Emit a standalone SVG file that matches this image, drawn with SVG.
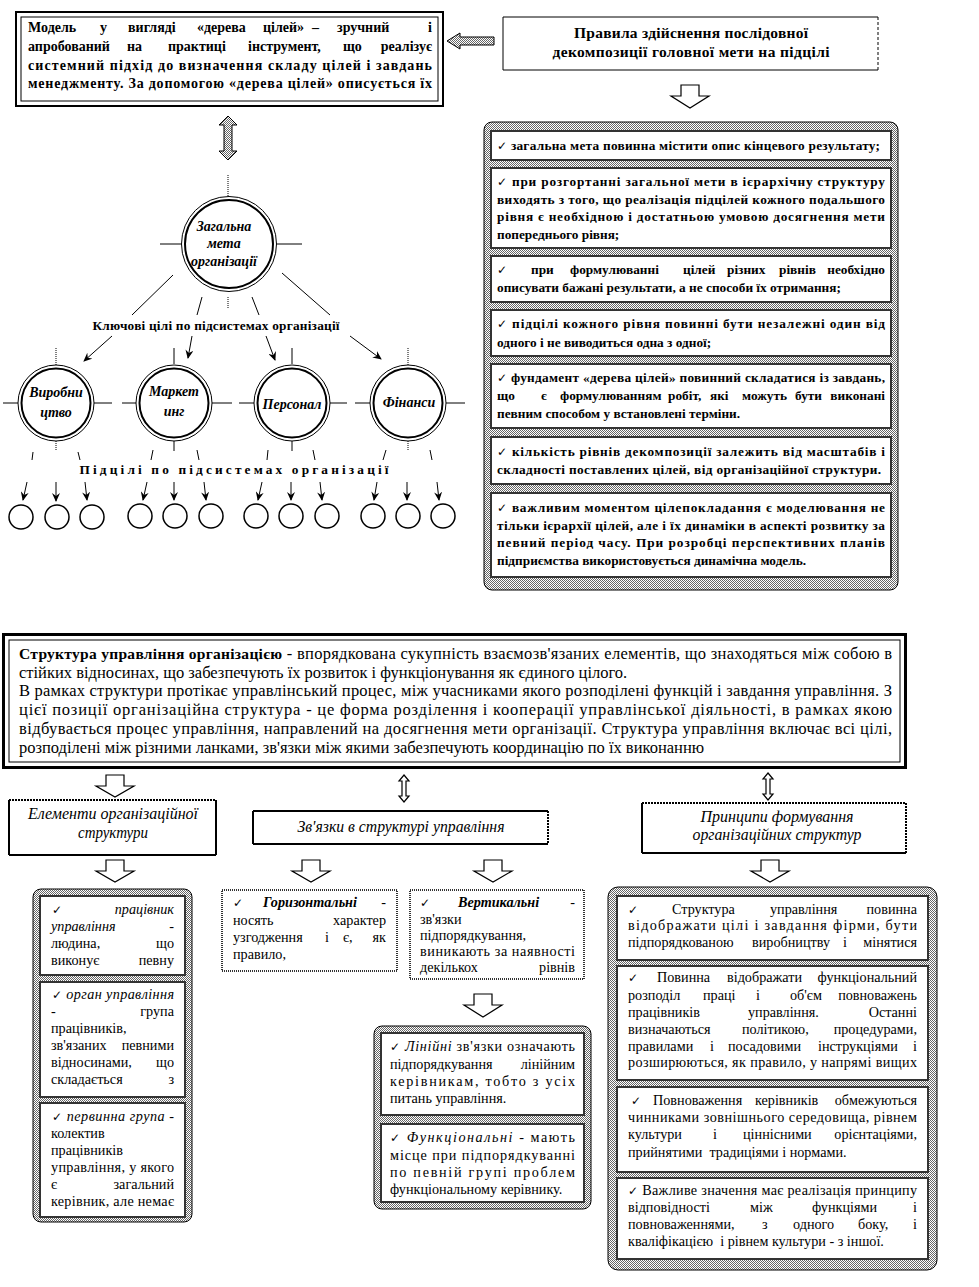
<svg xmlns="http://www.w3.org/2000/svg" width="979" height="1287" viewBox="0 0 979 1287">
<defs>
<pattern id="dots" width="2" height="2" patternUnits="userSpaceOnUse"><rect width="2" height="2" fill="#fff"/><rect width="1" height="1" fill="#666"/><rect x="1" y="1" width="1" height="1" fill="#666"/></pattern>
<marker id="ah" markerWidth="9" markerHeight="8" refX="8" refY="4" orient="auto" markerUnits="userSpaceOnUse"><path d="M0,0 L9,4 L0,8 L3,4 Z" fill="#000"/></marker>
</defs>
<style>
text{font-family:"Liberation Serif","DejaVu Serif",serif;fill:#000}
.b{font-weight:bold;font-size:13.3px}
.bt{font-weight:bold;font-size:14px}
.bh{font-weight:bold;font-size:15.5px}
.bi{font-weight:bold;font-style:italic;font-size:14px}
.n15{font-size:16.5px}
.t{font-size:14.2px}
.hd{font-style:italic;font-size:16px}
.ck{font-family:"DejaVu Sans",sans-serif;font-size:12px;font-weight:normal;font-style:normal}
.i{font-style:italic}
.ln{stroke:#000;stroke-width:1;fill:none}
.dl{stroke:#000;stroke-width:1;fill:none;stroke-dasharray:1 1}
.ar{stroke:#000;stroke-width:1;fill:none;marker-end:url(#ah)}
.blk{fill:#fff;stroke:#000;stroke-width:1.2}
.sblk{fill:url(#dots);stroke:#000;stroke-width:1}
.stip{fill:url(#dots);stroke:#000;stroke-width:1}
.inb{fill:#fff;stroke:#333;stroke-width:2}
.e2{stroke:#000;stroke-width:2;fill:none}
.d2{stroke:#000;stroke-width:2;fill:none;stroke-dasharray:2 1}
.c{text-anchor:middle}
.e{text-anchor:end}
.ring1{fill:#fff;stroke:#000;stroke-width:1}
.ring2{fill:none;stroke:#000;stroke-width:2}
.sm{fill:#fff;stroke:#000;stroke-width:1.5}
</style>
<rect width="979" height="1287" fill="#fff"/>

<!-- ===== Connectors ===== -->
<g id="connectors">
  <path class="sblk" d="M447,41 L460,33 V37 H494 V45 H460 V49 Z"/>
  <path class="blk" d="M681,85 H699 V96 H709 L690,108 L671,96 H681 Z"/>
  <path class="sblk" d="M228,116 L237,125 H232 V151 H237 L228,160 L219,151 H224 V125 H219 Z"/>
  <line class="dl" x1="228" y1="175" x2="228" y2="196"/>
  <line class="ln" x1="160" y1="244" x2="181" y2="244"/>
  <line class="ln" x1="277" y1="244" x2="302" y2="244"/>
  <line class="ln" x1="173" y1="275" x2="132" y2="315"/>
  <line class="ln" x1="202" y1="297" x2="197" y2="315"/>
  <line class="dl" x1="228" y1="297" x2="228" y2="308"/>
  <line class="ln" x1="252" y1="297" x2="259" y2="315"/>
  <line class="ln" x1="282" y1="273" x2="330" y2="315"/>
  <line class="ar" x1="112" y1="336" x2="84" y2="361"/>
  <line class="ar" x1="192" y1="336" x2="188" y2="358"/>
  <line class="ar" x1="266" y1="336" x2="275" y2="360"/>
  <line class="ar" x1="350" y1="336" x2="381" y2="359"/>
  <line class="dl" x1="56" y1="348" x2="56" y2="365"/>
  <line class="ln" x1="174" y1="348" x2="174" y2="364"/>
  <line class="ln" x1="292" y1="348" x2="292" y2="364"/>
  <line class="dl" x1="408" y1="348" x2="408" y2="365"/>
  <line class="ln" x1="3" y1="403" x2="18" y2="403"/>
  <line class="ln" x1="94" y1="403" x2="112" y2="403"/>
  <line class="ln" x1="122" y1="403" x2="136" y2="403"/>
  <line class="ln" x1="212" y1="403" x2="232" y2="403"/>
  <line class="ln" x1="239" y1="403" x2="254" y2="403"/>
  <line class="ln" x1="330" y1="403" x2="347" y2="403"/>
  <line class="ln" x1="355" y1="403" x2="370" y2="403"/>
  <line class="ln" x1="446" y1="403" x2="465" y2="403"/>
  <line class="dl" x1="56" y1="441" x2="56" y2="450"/>
  <line class="ln" x1="174" y1="441" x2="174" y2="451"/>
  <line class="ln" x1="292" y1="441" x2="292" y2="451"/>
  <line class="dl" x1="408" y1="441" x2="408" y2="450"/>
  <line class="ln" x1="33" y1="452" x2="32" y2="460"/>
  <line class="ln" x1="78" y1="452" x2="80" y2="460"/>
  <line class="ln" x1="153" y1="450" x2="151" y2="460"/>
  <line class="ln" x1="197" y1="450" x2="199" y2="460"/>
  <line class="ln" x1="268" y1="450" x2="267" y2="460"/>
  <line class="ln" x1="313" y1="450" x2="315" y2="460"/>
  <line class="ln" x1="386" y1="450" x2="383" y2="460"/>
  <line class="ln" x1="430" y1="450" x2="432" y2="460"/>
  <line class="ar" x1="27" y1="482" x2="23" y2="500"/>
  <line class="ar" x1="56" y1="482" x2="56" y2="501"/>
  <line class="ar" x1="85" y1="482" x2="87" y2="500"/>
  <line class="ar" x1="147" y1="482" x2="143" y2="500"/>
  <line class="ar" x1="174" y1="482" x2="174" y2="500"/>
  <line class="ar" x1="204" y1="482" x2="206" y2="500"/>
  <line class="ar" x1="262" y1="482" x2="258" y2="500"/>
  <line class="ar" x1="291" y1="482" x2="291" y2="500"/>
  <line class="ar" x1="320" y1="482" x2="322" y2="500"/>
  <line class="ar" x1="377" y1="482" x2="374" y2="500"/>
  <line class="ar" x1="407" y1="482" x2="407" y2="500"/>
  <line class="ar" x1="437" y1="482" x2="439" y2="500"/>
  <!-- lower arrows -->
  <path class="blk" d="M106,775 H124 V786 H134 L115,797 L96,786 H106 Z"/>
  <path class="blk" d="M404,775 L409,781 H406 V796 H409 L404,802 L399,796 H402 V781 H399 Z"/>
  <path class="blk" d="M768,773 L773,779 H770 V794 H773 L768,800 L763,794 H766 V779 H763 Z"/>
  <path class="blk" d="M106,860 H124 V871 H134 L115,882 L96,871 H106 Z"/>
  <path class="blk" d="M302,860 H320 V871 H330 L311,882 L292,871 H302 Z"/>
  <path class="blk" d="M484,860 H502 V871 H512 L493,882 L474,871 H484 Z"/>
  <path class="blk" d="M761,860 H779 V871 H789 L770,882 L751,871 H761 Z"/>
  <path class="blk" d="M474,994 H492 V1005 H502 L483,1017 L464,1005 H474 Z"/>
</g>

<!-- ===== Top-left: tree model text ===== -->
<g id="tree-model-note">
  <rect x="16" y="12" width="427" height="94" fill="#fff" stroke="#000" stroke-width="2"/>
  <rect x="21" y="17" width="417" height="84" fill="none" stroke="#000" stroke-width="1"/>
  <text class="bt" y="32"><tspan x="28">Модель</tspan><tspan x="100">у</tspan><tspan x="128">вигляді</tspan><tspan x="197">«дерева</tspan><tspan x="263">цілей»</tspan><tspan x="312">–</tspan><tspan x="337">зручний</tspan></text>
  <text class="bt e" x="432" y="32">і</text>
  <text class="bt" y="51"><tspan x="28">апробований</tspan><tspan x="127">на</tspan><tspan x="168">практиці</tspan><tspan x="248">інструмент,</tspan><tspan x="343">що</tspan></text>
  <text class="bt e" x="432" y="51">реалізує</text>
  <text class="bt" x="28" y="70" textLength="404" lengthAdjust="spacing">системний підхід до визначення складу цілей і завдань</text>
  <text class="bt" x="28" y="88" textLength="404" lengthAdjust="spacing">менеджменту. За допомогою «дерева цілей» описується їх</text>
</g>

<!-- ===== Top-right: rules title ===== -->
<g id="rules-title">
  <rect x="503" y="17" width="375" height="53" fill="#fff"/>
  <line class="ln" x1="503" y1="17" x2="878" y2="17" stroke-width="1.5"/>
  <line class="ln" x1="503" y1="17" x2="503" y2="70" stroke-width="1.5"/>
  <line class="ln" x1="503" y1="70" x2="878" y2="70" stroke-width="1.5"/>
  <line class="ln" x1="878" y1="17" x2="878" y2="70" stroke-dasharray="3 2"/>
  <text class="bh c" x="691" y="38" textLength="234" lengthAdjust="spacing">Правила здійснення послідовної</text>
  <text class="bh c" x="691" y="57" textLength="277" lengthAdjust="spacing">декомпозиції головної мети на підцілі</text>
</g>

<!-- ===== Tree nodes ===== -->
<g id="goal-main">
  <circle class="ring1" cx="229" cy="244" r="47.5"/>
  <circle class="ring2" cx="229" cy="244" r="44"/>
  <text class="bi c" x="224" y="231">Загальна</text>
  <text class="bi c" x="224" y="248">мета</text>
  <text class="bi c" x="224" y="266">організації</text>
</g>
<g id="label-key">
  <text class="b c" x="216" y="330" textLength="247" lengthAdjust="spacing">Ключові цілі  по підсистемах організації</text>
</g>
<g id="sub-production">
  <circle class="ring1" cx="56" cy="403" r="38"/>
  <circle class="ring2" cx="56" cy="403" r="34.5"/>
  <text class="bi c" x="56" y="397">Виробни</text>
  <text class="bi c" x="56" y="417">цтво</text>
</g>
<g id="sub-marketing">
  <circle class="ring1" cx="174" cy="403" r="38"/>
  <circle class="ring2" cx="174" cy="403" r="34.5"/>
  <text class="bi c" x="174" y="396">Маркет</text>
  <text class="bi c" x="174" y="416">инг</text>
</g>
<g id="sub-personnel">
  <circle class="ring1" cx="292" cy="403" r="38"/>
  <circle class="ring2" cx="292" cy="403" r="34.5"/>
  <text class="bi c" x="292" y="409">Персонал</text>
</g>
<g id="sub-finance">
  <circle class="ring1" cx="408" cy="403" r="38"/>
  <circle class="ring2" cx="408" cy="403" r="34.5"/>
  <text class="bi c" x="409" y="407">Фінанси</text>
</g>
<g id="label-sub">
  <text class="b c" x="234" y="474" textLength="309" lengthAdjust="spacing">Підцілі по підсистемах організації</text>
</g>
<g id="subgoals">
  <circle class="sm" cx="21" cy="517" r="12"/>
  <circle class="sm" cx="57" cy="517" r="12"/>
  <circle class="sm" cx="92" cy="517" r="12"/>
  <circle class="sm" cx="140" cy="516" r="12"/>
  <circle class="sm" cx="175" cy="516" r="12"/>
  <circle class="sm" cx="211" cy="516" r="12"/>
  <circle class="sm" cx="256" cy="516" r="12"/>
  <circle class="sm" cx="291" cy="516" r="12"/>
  <circle class="sm" cx="327" cy="516" r="12"/>
  <circle class="sm" cx="373" cy="516" r="12"/>
  <circle class="sm" cx="408" cy="516" r="12"/>
  <circle class="sm" cx="443" cy="516" r="12"/>
</g>

<!-- ===== Right rules list ===== -->
<g id="rules-list">
  <rect class="stip" x="484" y="122" width="414" height="468" rx="8"/>
  <rect class="inb" x="491" y="131" width="400" height="29"/>
  <text class="b" x="497" y="150" textLength="383" lengthAdjust="spacing"><tspan class="ck">✓</tspan> загальна мета повинна містити опис кінцевого результату;</text>

  <rect class="inb" x="491" y="168" width="400" height="80"/>
  <text class="b" x="497" y="186" textLength="388" lengthAdjust="spacing"><tspan class="ck">✓</tspan>  при розгортанні загальної мети в ієрархічну структуру</text>
  <text class="b" x="497" y="204" textLength="388" lengthAdjust="spacing">виходять з того, що реалізація підцілей кожного подальшого</text>
  <text class="b" x="497" y="221" textLength="388" lengthAdjust="spacing">рівня є необхідною і достатньою умовою досягнення мети</text>
  <text class="b" x="497" y="239">попереднього рівня;</text>

  <rect class="inb" x="491" y="256" width="400" height="46"/>
  <text class="b" y="274"><tspan x="497" class="ck">✓</tspan><tspan x="531">при</tspan><tspan x="570">формулюванні</tspan><tspan x="683">цілей</tspan><tspan x="727">різних</tspan><tspan x="779">рівнів</tspan></text>
  <text class="b e" x="885" y="274">необхідно</text>
  <text class="b" x="497" y="292">описувати бажані результати, а не способи їх отримання;</text>

  <rect class="inb" x="491" y="310" width="400" height="46"/>
  <text class="b" x="497" y="328" textLength="388" lengthAdjust="spacing"><tspan class="ck">✓</tspan> підцілі кожного рівня повинні бути незалежні один від</text>
  <text class="b" x="497" y="347">одного і не виводиться одна з одної;</text>

  <rect class="inb" x="491" y="364" width="400" height="64"/>
  <text class="b" x="497" y="382" textLength="388" lengthAdjust="spacing"><tspan class="ck">✓</tspan> фундамент «дерева цілей» повинний складатися із завдань,</text>
  <text class="b" y="400"><tspan x="497">що</tspan><tspan x="541">є</tspan><tspan x="560">формулюванням</tspan><tspan x="668">робіт,</tspan><tspan x="710">які</tspan><tspan x="742">можуть</tspan><tspan x="795">бути</tspan></text>
  <text class="b e" x="885" y="400">виконані</text>
  <text class="b" x="497" y="418">певним способом у встановлені терміни.</text>

  <rect class="inb" x="491" y="437" width="400" height="47"/>
  <text class="b" x="497" y="456" textLength="388" lengthAdjust="spacing"><tspan class="ck">✓</tspan> кількість рівнів декомпозиції залежить від масштабів і</text>
  <text class="b" x="497" y="474" textLength="384" lengthAdjust="spacing">складності поставлених цілей, від організаційної  структури.</text>

  <rect class="inb" x="491" y="493" width="400" height="84"/>
  <text class="b" x="497" y="512" textLength="388" lengthAdjust="spacing"><tspan class="ck">✓</tspan> важливим моментом цілепокладання є моделювання не</text>
  <text class="b" x="497" y="530" textLength="388" lengthAdjust="spacing">тільки ієрархії цілей, але і їх динаміки в аспекті розвитку за</text>
  <text class="b" x="497" y="547" textLength="388" lengthAdjust="spacing">певний період часу. При розробці перспективних планів</text>
  <text class="b" x="497" y="565">підприємства використовується динамічна модель.</text>
</g>

<!-- ===== Structure definition ===== -->
<g id="structure-def">
  <rect x="3.5" y="634.5" width="902" height="133" fill="#fff" stroke="#000" stroke-width="3"/>
  <rect x="9" y="640" width="891" height="122" fill="none" stroke="#000" stroke-width="1"/>
  <text class="n15" x="19" y="659" textLength="873" lengthAdjust="spacing"><tspan font-weight="bold" font-size="15.5px">Структура управління організацією</tspan> - впорядкована сукупність  взаємозв'язаних елементів, що знаходяться між собою в</text>
  <text class="n15" x="19" y="678">стійких відносинах, що забезпечують їх розвиток і функціонування  як єдиного цілого.</text>
  <text class="n15" x="19" y="696" textLength="873" lengthAdjust="spacing">В рамках структури протікає управлінський процес, між учасниками якого розподілені функцій і завдання управління. З</text>
  <text class="n15" x="19" y="715" textLength="873" lengthAdjust="spacing">цієї позиції організаційна структура - це форма розділення і кооперації управлінської діяльності, в рамках якою</text>
  <text class="n15" x="19" y="734" textLength="873" lengthAdjust="spacing">відбувається процес управління, направлений на досягнення мети організації. Структура управління включає всі цілі,</text>
  <text class="n15" x="19" y="753">розподілені між різними ланками,  зв'язки між якими забезпечують координацію по їх виконанню</text>
</g>

<!-- ===== Headers ===== -->
<g id="hdr-elements">
  <rect x="9" y="800" width="207" height="55" fill="#fff"/>
  <line class="d2" x1="9" y1="800" x2="216" y2="800"/>
  <line class="e2" x1="9" y1="800" x2="9" y2="855"/>
  <line class="e2" x1="216" y1="800" x2="216" y2="855"/>
  <line class="e2" x1="9" y1="855" x2="216" y2="855"/>
  <text class="hd c" x="113" y="819" textLength="170" lengthAdjust="spacingAndGlyphs">Елементи організаційної</text>
  <text class="hd c" x="113" y="838" textLength="70" lengthAdjust="spacingAndGlyphs">структури</text>
</g>
<g id="hdr-links">
  <rect x="253" y="811" width="295" height="33" fill="#fff"/>
  <line class="e2" x1="253" y1="811" x2="548" y2="811"/>
  <line class="e2" x1="253" y1="811" x2="253" y2="844"/>
  <line class="d2" x1="548" y1="811" x2="548" y2="844"/>
  <line class="e2" x1="253" y1="844" x2="548" y2="844"/>
  <text class="hd c" x="401" y="832" textLength="207" lengthAdjust="spacingAndGlyphs">Зв'язки в структурі управління</text>
</g>
<g id="hdr-principles">
  <rect x="642" y="803" width="264" height="50" fill="#fff"/>
  <line class="d2" x1="642" y1="803" x2="906" y2="803"/>
  <line class="e2" x1="642" y1="803" x2="642" y2="853"/>
  <line class="d2" x1="906" y1="803" x2="906" y2="853"/>
  <line class="e2" x1="642" y1="853" x2="906" y2="853"/>
  <text class="hd c" x="777" y="822" textLength="153" lengthAdjust="spacingAndGlyphs">Принципи формування</text>
  <text class="hd c" x="777" y="840" textLength="169" lengthAdjust="spacingAndGlyphs">організаційних структур</text>
</g>

<!-- ===== Elements list ===== -->
<g id="elements-list">
  <rect class="stip" x="33" y="889" width="159" height="333" rx="8"/>
  <rect class="inb" x="40" y="896" width="145" height="79"/>
  <text class="t" x="52" y="914"><tspan class="ck">✓</tspan></text>
  <text class="t i e" x="174" y="914">працівник</text>
  <text class="t i" x="51" y="931">управління</text>
  <text class="t e" x="174" y="931">-</text>
  <text class="t" x="51" y="948">людина,</text>
  <text class="t e" x="174" y="948">що</text>
  <text class="t" x="51" y="965">виконує</text>
  <text class="t e" x="174" y="965">певну</text>

  <rect class="inb" x="40" y="982" width="145" height="115"/>
  <text class="t" x="52" y="999" textLength="122" lengthAdjust="spacing"><tspan class="ck">✓</tspan> <tspan class="i">орган управління</tspan></text>
  <text class="t" x="51" y="1016">-</text>
  <text class="t e" x="174" y="1016">група</text>
  <text class="t" x="51" y="1033">працівників,</text>
  <text class="t" x="51" y="1050">зв'язаних</text>
  <text class="t e" x="174" y="1050">певними</text>
  <text class="t" x="51" y="1067">відносинами,</text>
  <text class="t e" x="174" y="1067">що</text>
  <text class="t" x="51" y="1084">складається</text>
  <text class="t e" x="174" y="1084">з</text>

  <rect class="inb" x="40" y="1103" width="145" height="114"/>
  <text class="t" x="52" y="1121" textLength="122" lengthAdjust="spacing"><tspan class="ck">✓</tspan> <tspan class="i">первинна група</tspan> -</text>
  <text class="t" x="51" y="1138">колектив</text>
  <text class="t" x="51" y="1155">працівників</text>
  <text class="t" x="51" y="1172" textLength="123" lengthAdjust="spacing">управління, у якого</text>
  <text class="t" x="51" y="1189">є</text>
  <text class="t e" x="174" y="1189">загальний</text>
  <text class="t" x="51" y="1206" textLength="123" lengthAdjust="spacing">керівник, але немає</text>
</g>

<!-- ===== Links ===== -->
<g id="link-horizontal">
  <rect x="222" y="890" width="175" height="81" fill="#fff" stroke="#333" stroke-width="2" stroke-dasharray="1 1"/>
  <text class="t" y="907"><tspan x="233" class="ck">✓</tspan><tspan x="263" font-weight="bold" font-style="italic">Горизонтальні</tspan></text>
  <text class="t e" x="386" y="907">-</text>
  <text class="t" x="233" y="925">носять</text>
  <text class="t e" x="386" y="925">характер</text>
  <text class="t" y="942"><tspan x="233">узгодження</tspan><tspan x="325">і</tspan><tspan x="343">є,</tspan></text>
  <text class="t e" x="386" y="942">як</text>
  <text class="t" x="233" y="959">правило,</text>
</g>
<g id="link-vertical">
  <rect x="410" y="890" width="174" height="89" fill="#fff" stroke="#333" stroke-width="2" stroke-dasharray="1 1"/>
  <text class="t" y="907"><tspan x="420" class="ck">✓</tspan><tspan x="458" font-weight="bold" font-style="italic">Вертикальні</tspan></text>
  <text class="t e" x="575" y="907">-</text>
  <text class="t" x="420" y="924">зв'язки</text>
  <text class="t" x="420" y="940">підпорядкування,</text>
  <text class="t" x="420" y="956" textLength="155" lengthAdjust="spacing">виникають за наявності</text>
  <text class="t" x="420" y="972">декількох</text>
  <text class="t e" x="575" y="972">рівнів</text>
</g>
<g id="link-types">
  <rect class="stip" x="374" y="1026" width="217" height="183" rx="8"/>
  <rect class="inb" x="381" y="1033" width="203" height="82"/>
  <text class="t" x="390" y="1051" textLength="185" lengthAdjust="spacing"><tspan class="ck">✓</tspan> <tspan class="i">Лінійні</tspan> зв'язки означають</text>
  <text class="t" x="390" y="1069">підпорядкування</text>
  <text class="t e" x="575" y="1069">лінійним</text>
  <text class="t" x="390" y="1086" textLength="185" lengthAdjust="spacing">керівникам, тобто з усіх</text>
  <text class="t" x="390" y="1103">питань управління.</text>
  <rect class="inb" x="381" y="1124" width="203" height="78"/>
  <text class="t" x="390" y="1142" textLength="185" lengthAdjust="spacing"><tspan class="ck">✓</tspan> <tspan class="i">Функціональні</tspan> - мають</text>
  <text class="t" x="390" y="1160" textLength="185" lengthAdjust="spacing">місце при підпорядкуванні</text>
  <text class="t" x="390" y="1177" textLength="185" lengthAdjust="spacing">по певній групі проблем</text>
  <text class="t" x="390" y="1194">функціональному керівнику.</text>
</g>

<!-- ===== Principles list ===== -->
<g id="principles-list">
  <rect class="stip" x="608" y="887" width="329" height="383" rx="10"/>
  <rect class="inb" x="617" y="896" width="311" height="64"/>
  <text class="t" y="914"><tspan x="628" class="ck">✓</tspan><tspan x="672">Структура</tspan><tspan x="770">управління</tspan></text>
  <text class="t e" x="917" y="914">повинна</text>
  <text class="t" x="628" y="930" textLength="289" lengthAdjust="spacing">відображати цілі і завдання фірми, бути</text>
  <text class="t" y="947"><tspan x="628">підпорядкованою</tspan><tspan x="752">виробництву</tspan><tspan x="843">і</tspan></text>
  <text class="t e" x="917" y="947">мінятися</text>

  <rect class="inb" x="617" y="966" width="311" height="114"/>
  <text class="t" y="982"><tspan x="628" class="ck">✓</tspan><tspan x="657">Повинна</tspan><tspan x="727">відображати</tspan></text>
  <text class="t e" x="917" y="982">функціональний</text>
  <text class="t" y="1000"><tspan x="628">розподіл</tspan><tspan x="703">праці</tspan><tspan x="756">і</tspan><tspan x="790">об'єм</tspan></text>
  <text class="t e" x="917" y="1000">повноважень</text>
  <text class="t" y="1017"><tspan x="628">працівників</tspan><tspan x="748">управління.</tspan></text>
  <text class="t e" x="917" y="1017">Останні</text>
  <text class="t" y="1034"><tspan x="628">визначаються</tspan><tspan x="742">політикою,</tspan></text>
  <text class="t e" x="917" y="1034">процедурами,</text>
  <text class="t" y="1051"><tspan x="628">правилами</tspan><tspan x="710">і</tspan><tspan x="728">посадовими</tspan><tspan x="818">інструкціями</tspan></text>
  <text class="t e" x="917" y="1051">і</text>
  <text class="t" x="628" y="1067" textLength="289" lengthAdjust="spacing">розширюються, як правило, у напрямі вищих</text>

  <rect class="inb" x="617" y="1087" width="311" height="85"/>
  <text class="t" y="1105"><tspan x="631" class="ck">✓</tspan><tspan x="653">Повноваження</tspan><tspan x="755">керівників</tspan></text>
  <text class="t e" x="917" y="1105">обмежуються</text>
  <text class="t" x="628" y="1122" textLength="289" lengthAdjust="spacing">чинниками зовнішнього середовища, рівнем</text>
  <text class="t" y="1139"><tspan x="628">культури</tspan><tspan x="713">і</tspan><tspan x="743">ціннісними</tspan></text>
  <text class="t e" x="917" y="1139">орієнтаціями,</text>
  <text class="t" x="628" y="1157">прийнятими&#160; традиціями і нормами.</text>

  <rect class="inb" x="617" y="1178" width="311" height="81"/>
  <text class="t" x="628" y="1195" textLength="289" lengthAdjust="spacing"><tspan class="ck">✓</tspan> Важливе значення має реалізація принципу</text>
  <text class="t" y="1212"><tspan x="628">відповідності</tspan><tspan x="750">між</tspan><tspan x="812">функціями</tspan></text>
  <text class="t e" x="917" y="1212">і</text>
  <text class="t" y="1229"><tspan x="628">повноваженнями,</tspan><tspan x="762">з</tspan><tspan x="793">одного</tspan><tspan x="858">боку,</tspan></text>
  <text class="t e" x="917" y="1229">і</text>
  <text class="t" x="628" y="1246">кваліфікацією&#160; і рівнем культури - з іншої.</text>
</g>
</svg>
